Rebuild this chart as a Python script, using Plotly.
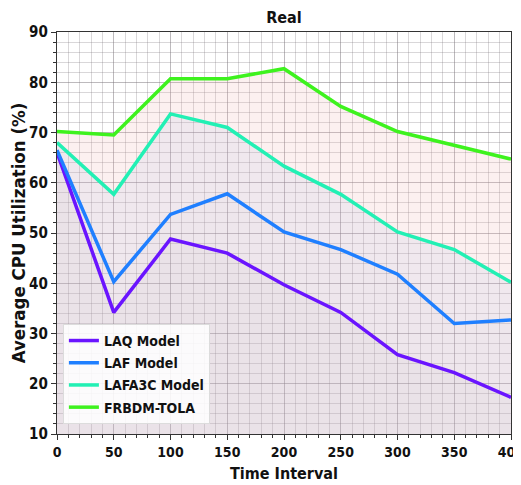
import plotly.graph_objects as go

x_vals = [0, 50, 100, 150, 200, 250, 300, 350, 400]
laq = [66.0, 34.2, 48.8, 46.0, 39.7, 34.2, 25.8, 22.2, 17.3]
laf = [66.5, 40.3, 53.7, 57.8, 50.2, 46.7, 41.8, 32.0, 32.7]
lafa3c = [68.0, 57.7, 73.7, 71.0, 63.3, 57.7, 50.2, 46.7, 40.2]
frbdm = [70.2, 69.5, 80.7, 80.7, 82.7, 75.2, 70.2, 67.5, 64.7]

x_ticks = [0, 50, 100, 150, 200, 250, 300, 350, 400]
y_ticks = [10, 20, 30, 40, 50, 60, 70, 80, 90]

series = [
    ("LAQ Model", laq, "#6a14ff", "rgba(190,180,185,0.07)"),
    ("LAF Model", laf, "#1f7fff", "rgba(200,190,200,0.03)"),
    ("LAFA3C Model", lafa3c, "#22f0b4", "rgba(122,150,220,0.09)"),
    ("FRBDM-TOLA", frbdm, "#3ef21e", "rgba(240,180,180,0.2)"),
]

fig = go.Figure()
# fills first (top series first so lower fills layer over it)
for name, ys, col, fillc in reversed(series):
    fig.add_trace(go.Scatter(
        x=x_vals, y=ys, mode="none", fill="tozeroy", fillcolor=fillc,
        showlegend=False, hoverinfo="skip",
    ))
# lines on top
for name, ys, col, fillc in series:
    fig.add_trace(go.Scatter(
        x=x_vals, y=ys, name="<b>" + name + "</b>", mode="lines",
        line=dict(color=col, width=3.5), legendgroup=name,
    ))

font_main = "DejaVu Sans Condensed, Liberation Sans Narrow, DejaVu Sans"
grid_c = "rgba(120,110,120,0.28)"
fig.update_layout(
    width=521, height=485,
    margin=dict(l=49, r=18, t=24, b=59, autoexpand=False),
    paper_bgcolor="white", plot_bgcolor="white",
    title=dict(text="<b>Real</b>", x=0.5, xref="paper", xanchor="center",
               y=0.981, yref="container", yanchor="middle",
               font=dict(family=font_main, size=16, color="#111")),
    font=dict(family=font_main, color="#111"),
    legend=dict(x=0.013, y=0.025, xanchor="left", yanchor="bottom",
                bgcolor="rgba(255,255,255,0.85)", bordercolor="#dcdcdc",
                borderwidth=1, font=dict(size=14, family=font_main, color="#111"),
                traceorder="grouped", tracegroupgap=1, itemwidth=30),
    showlegend=True,
)

fig.update_xaxes(
    range=[0, 400], tickmode="array", tickvals=x_ticks,
    ticktext=["<b>%d</b>" % v for v in x_ticks],
    tickfont=dict(size=14, family=font_main, color="#111"),
    ticklabeloverflow="allow",
    title=dict(text="<b>Time Interval</b>", font=dict(size=16, family=font_main), standoff=8),
    showline=True, linecolor="#333", linewidth=1.2, mirror=True,
    ticks="outside", ticklen=5, tickcolor="#333",
    showgrid=True, gridcolor=grid_c, gridwidth=1,
    minor=dict(dtick=10, tick0=0, showgrid=True, gridcolor=grid_c,
               gridwidth=1, ticks="outside", ticklen=3, tickcolor="#333"),
    zeroline=False, automargin=False,
)
fig.update_yaxes(
    range=[10, 90], tickmode="array", tickvals=y_ticks,
    ticktext=["<b>%d</b>" % v for v in y_ticks],
    tickfont=dict(size=15, family=font_main, color="#111"),
    title=dict(text="<b>Average CPU Utilization (%)</b>", font=dict(size=18.5, family=font_main), standoff=7),
    showline=True, linecolor="#333", linewidth=1.2, mirror=True,
    ticks="outside", ticklen=5, tickcolor="#333",
    showgrid=True, gridcolor=grid_c, gridwidth=1,
    minor=dict(dtick=2, tick0=10, showgrid=True, gridcolor=grid_c,
               gridwidth=1, ticks="outside", ticklen=3, tickcolor="#333"),
    zeroline=False, automargin=False,
)

fig.write_html("out.html")
